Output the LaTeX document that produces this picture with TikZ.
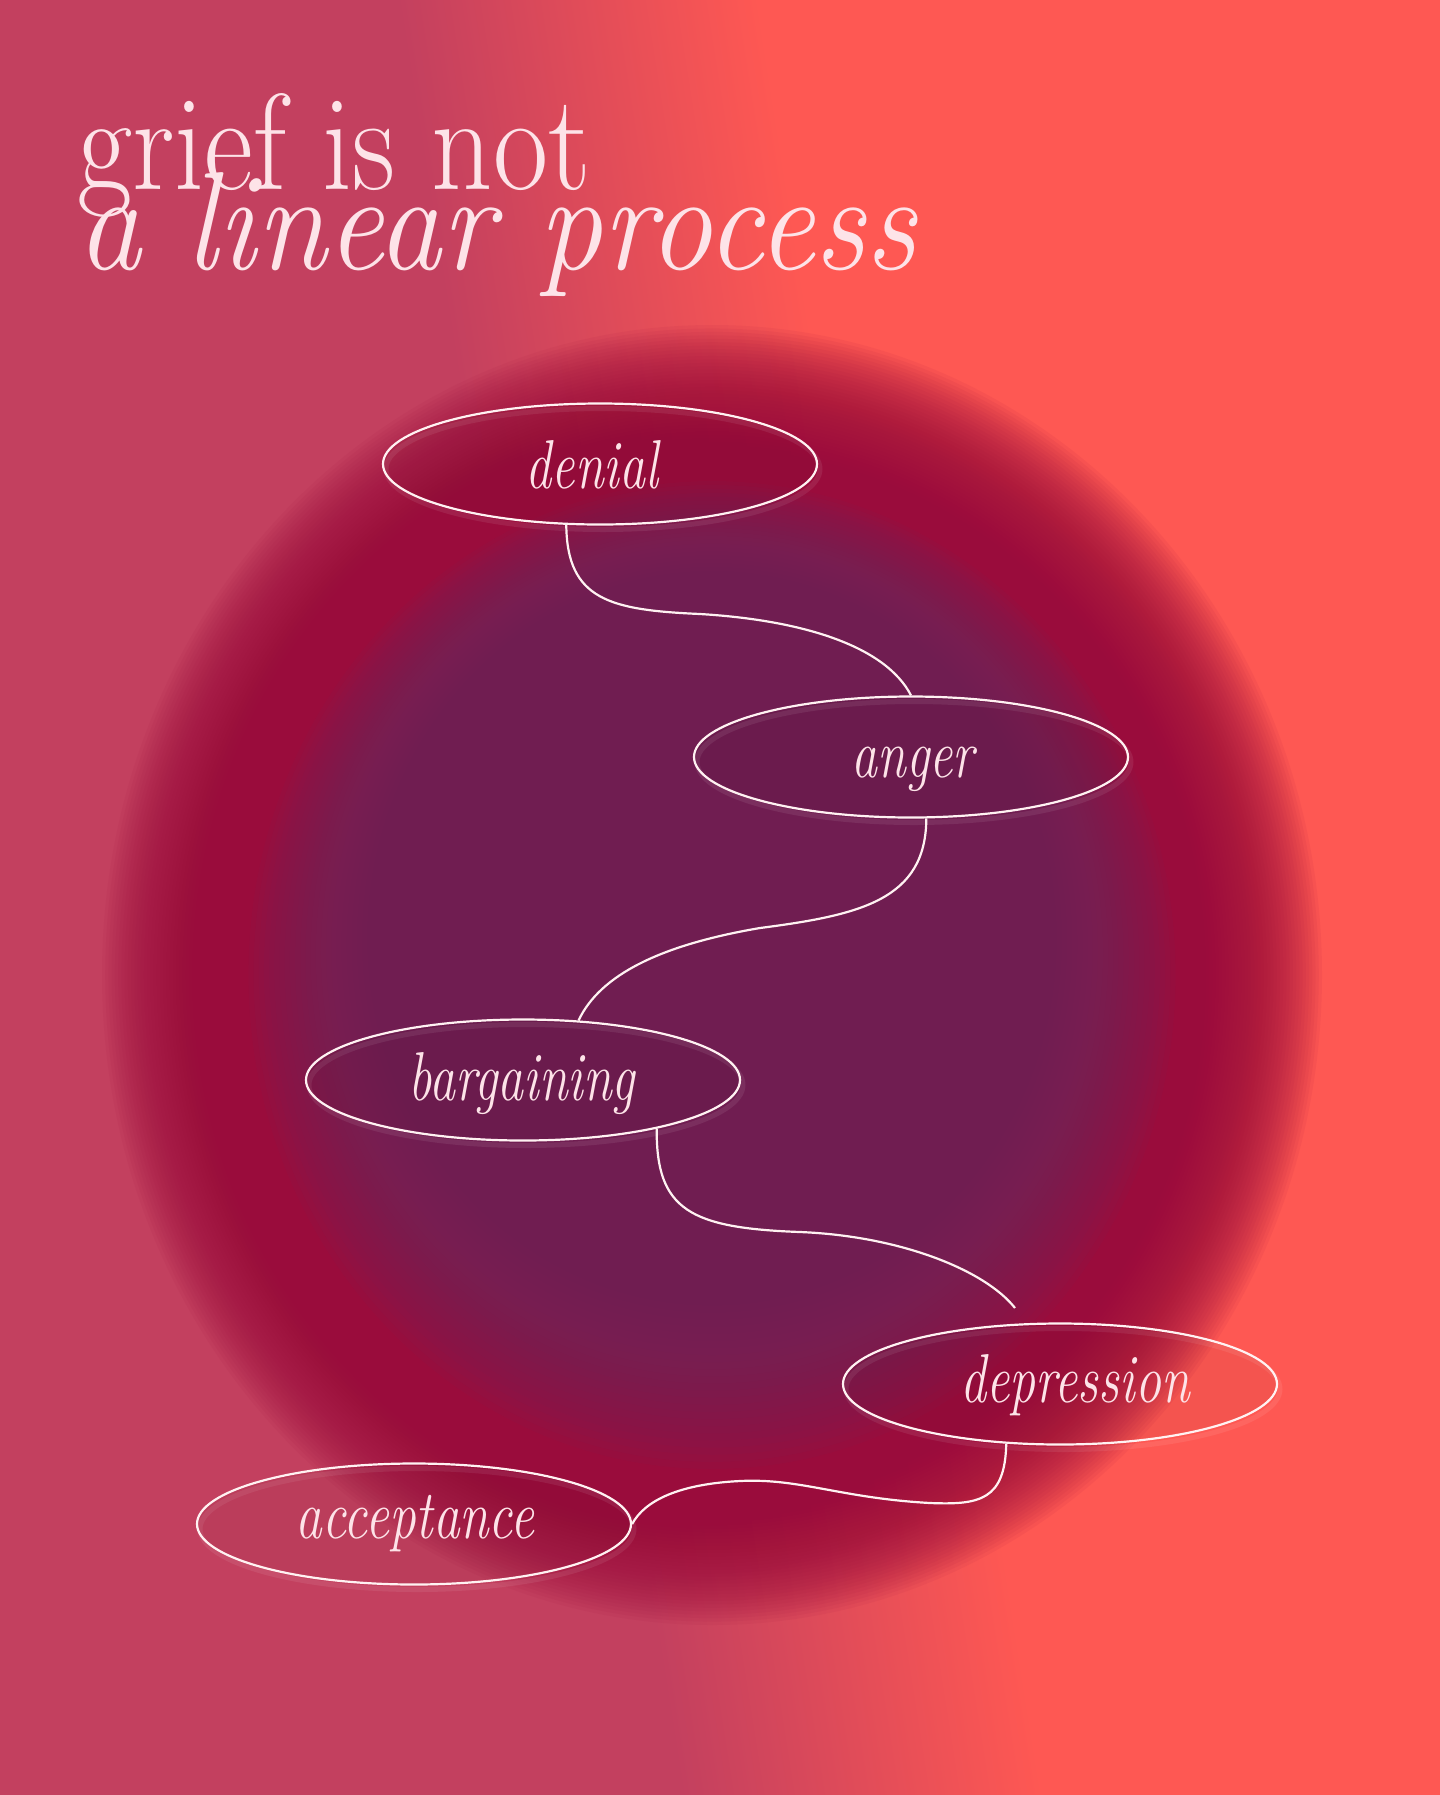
\documentclass[tikz,border=0pt]{standalone}
\usepackage{fontspec}
\usetikzlibrary{shapes.geometric,shadows}
\definecolor{rose}{HTML}{C3405F}
\definecolor{coral}{HTML}{FE5853}
\definecolor{blobpurple}{HTML}{702A5E}
\definecolor{blobcrim}{HTML}{9A0C3C}
\definecolor{ink}{HTML}{FDE3E8}
\definecolor{strokec}{HTML}{FFF2F2}
\pgfdeclarehorizontalshading{bgshade}{100bp}{color(0bp)=(rose); color(44bp)=(rose); color(56bp)=(coral); color(100bp)=(coral)}
\tikzset{
  stage/.style={ellipse, draw=strokec, line width=1.1pt, minimum width=217pt, minimum height=60.5pt, inner sep=0pt,
    fill=black, fill opacity=0.04,
    general shadow={shadow xshift=1.5pt, shadow yshift=-2.5pt, draw=white, line width=2.5pt, opacity=0.08}},
  lbl/.style={text=ink, anchor=base, inner sep=0pt, font=\fontsize{34.6}{36}\selectfont\itshape},
  link/.style={draw=strokec, line width=1.1pt},
  ttl/.style={text=ink, anchor=base west, inner sep=0pt},
  blobring/.style={fill=blobcrim, fill opacity=0.065},
  blobcore/.style={fill=blobpurple, fill opacity=0.075}
}
\begin{document}
\begin{tikzpicture}[x=0.5pt,y=-0.5pt]
\useasboundingbox (0,0) rectangle (1440,1795);
\fill[shading=bgshade, shading angle=9] (0,0) rectangle (1440,1795);
\foreach \k in {0,...,49}{
  \fill[blobring] (712,975) ellipse [x radius={305pt*(1-0.0053*\k)}, y radius={325pt*(1-0.0053*\k)}];
}
\foreach \k in {0,...,39}{
  \fill[blobcore] (712,{975-1.6*\k}) ellipse [x radius={305pt*(0.76-0.0085*\k)}, y radius={325pt*(0.76-0.0085*\k)}];
}

\node[ttl] (t1) at (77,189) {\resizebox{256.5pt}{48pt}{\fontsize{70}{70}\selectfont grief is not}};
\node[ttl] (t2) at (77,269) {\resizebox{419.5pt}{48.5pt}{\fontsize{72}{72}\selectfont\itshape a linear process}};

\node[stage] (denial) at (600,464) {};
\node[stage] (anger) at (911,757) {};
\node[stage] (bargaining) at (523,1080) {};
\node[stage] (depression) at (1060,1384) {};
\node[stage] (acceptance) at (414,1524) {};

\node[lbl] (tdenial) at (592,488) {\scalebox{0.75}[1]{denial}};
\node[lbl] (tanger) at (913,777) {\scalebox{0.75}[1]{anger}};
\node[lbl] (tbargaining) at (522,1100) {\scalebox{0.75}[1]{bargaining}};
\node[lbl] (tdepression) at (1075,1402) {\scalebox{0.75}[1]{depression}};
\node[lbl] (tacceptance) at (415,1538) {\scalebox{0.77}[1]{acceptance}};

\coordinate (dend) at (1015,1308);
\draw[link] (denial.241) .. controls (567,600) and (610,610) .. (700,614) .. controls (800,620) and (885,645) .. (anger.north);
\draw[link] (anger.-76) .. controls (926,900) and (860,915) .. (760,928) .. controls (660,945) and (600,975) .. (bargaining.47);
\draw[link] (bargaining.-20) .. controls (656,1210) and (690,1228) .. (800,1232) .. controls (900,1236) and (985,1270) .. (dend);
\draw[link] (depression.228.6) .. controls (1005,1500) and (980,1505) .. (930,1503) .. controls (840,1498) and (800,1478) .. (740,1481) .. controls (680,1484) and (645,1500) .. (acceptance.east);
\end{tikzpicture}
\end{document}
